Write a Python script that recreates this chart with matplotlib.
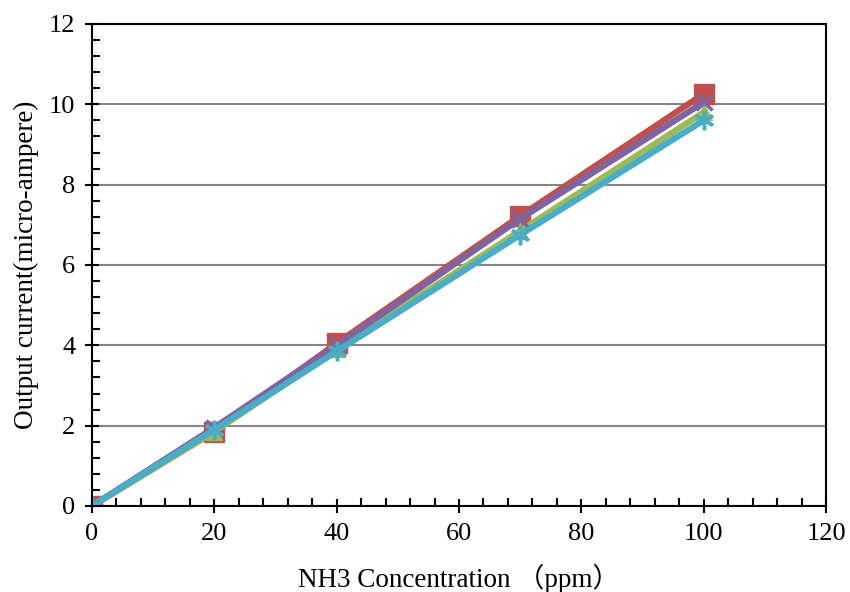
import matplotlib.pyplot as plt
from matplotlib.ticker import MultipleLocator

plt.rcParams['font.family'] = ['Liberation Serif', 'Noto Sans CJK SC']

conc = [0, 20, 40, 70, 100]
red = [0, 1.85, 4.05, 7.22, 10.26]
green = [0, 1.85, 3.9, 6.85, 9.8]
purple = [0, 1.95, 4.0, 7.15, 10.05]
cyan = [0, 1.9, 3.85, 6.75, 9.6]

fig = plt.figure(figsize=(8.5, 5.92), dpi=100)
ax = fig.add_axes([0.1082, 0.1453, 0.8636, 0.8142])

ax.plot(conc, red, color='#C0504D', lw=4.5, marker='s', ms=15, zorder=3)
ax.plot(conc, green, color='#9BBB59', lw=4.5, marker='^', ms=12, zorder=4)
ax.plot(conc, purple, color='#8064A2', lw=4.5, marker='x', ms=12, mew=2.5, zorder=5)
ax.plot(conc, cyan, color='#4BACC6', lw=4.5, marker=(6, 2, 0), ms=14, mew=2.5, zorder=6)

ax.set_xlim(0, 120)
ax.set_ylim(0, 12)
ax.xaxis.set_major_locator(MultipleLocator(20))
ax.xaxis.set_minor_locator(MultipleLocator(4))
ax.yaxis.set_major_locator(MultipleLocator(2))
ax.yaxis.set_minor_locator(MultipleLocator(0.4))
ax.tick_params(which='major', direction='inout', length=10, width=1.5, labelsize=19, pad=7)
ax.tick_params(which='minor', direction='in', length=6, width=1.5)
ax.tick_params(top=False, right=False)

ax.grid(axis='y', color='#868686', lw=1.5, zorder=1)
for s in ax.spines.values():
    s.set_linewidth(1.5)
    s.set_zorder(7)

ax.set_xlabel('NH3 Concentration （ppm）', fontsize=19.5, labelpad=14)
ax.set_ylabel('Output current(micro-ampere)', fontsize=19.5, labelpad=7)

fig.savefig('out.png', dpi=100)
